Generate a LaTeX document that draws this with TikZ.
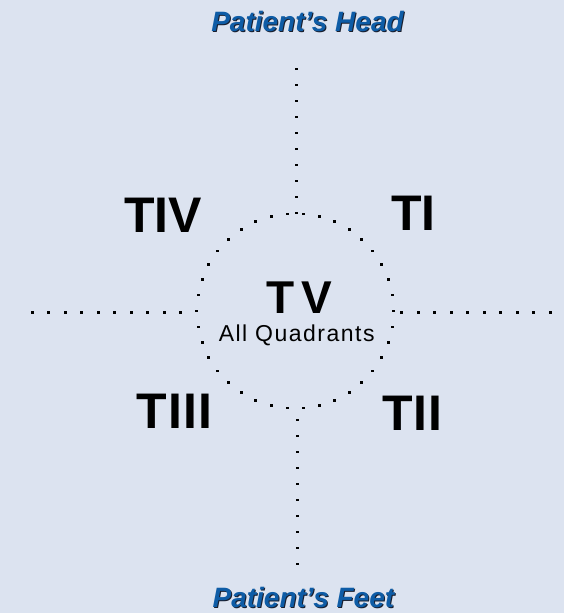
\documentclass[tikz,border=0pt]{standalone}
\usepackage{fontspec}
\setmainfont{Liberation Sans}
\newfontfamily\trackedfont[LetterSpace=6.5]{Liberation Sans}
\definecolor{bg}{RGB}{220,227,240}
\definecolor{headblue}{RGB}{14,92,166}
\definecolor{shadowc}{RGB}{25,30,45}
\begin{document}
\begin{tikzpicture}[x=1pt,y=-1pt,
  quad/.style={font=\fontsize{50}{50}\selectfont\bfseries, anchor=base, inner sep=0pt, text=black},
  title/.style={font=\fontsize{28}{28}\selectfont\bfseries\itshape, anchor=base, inner sep=0pt, text=headblue},
  titleshadow/.style={title, text=shadowc},
  dotsq/.style={fill=black}
]
\fill[bg] (0,0) rectangle (564,613);
\useasboundingbox (0,0) rectangle (564,613);

% dotted axes
\foreach \i in {0,...,9} {
  \fill[dotsq] ({296.7-1.5},{69+16*\i-1.2}) rectangle ++(3,2.4);
  \fill[dotsq] ({297.7-1.5},{419.7+16.04*\i-1.2}) rectangle ++(3,2.4);
  \fill[dotsq] ({32+16.5*\i-1.5},{312.3-1.2}) rectangle ++(3,2.4);
  \fill[dotsq] ({401.5+16.5*\i-1.5},{312.3-1.2}) rectangle ++(3,2.4);
}
% dotted circle
\foreach \k in {0,...,37} {
  \fill[dotsq] ({295.2+98.5*cos(360*\k/38)-1.5},{311-97.5*sin(360*\k/38)-1.3}) rectangle ++(3,2.6);
}

% titles
\node[titleshadow] (headsh) at (308.5,32.7) {Patient’s Head};
\node[title] (head) at (307.5,31.7) {Patient’s Head};
\node[titleshadow] (feetsh) at (304.4,608.8) {Patient’s Feet};
\node[title] (feet) at (303.4,607.8) {Patient’s Feet};

% quadrant labels
\node[quad] (tiv) at (163,232) {TIV};
\node[quad] (ti) at (413.5,230) {TI};
\node[quad] (tiii) at (174.5,428) {T\kern1pt I\kern1pt I\kern1pt I};
\node[quad] (tii) at (412.5,430) {T\kern1pt I\kern1pt I};
\node[quad, font=\fontsize{46}{46}\selectfont\bfseries] (tv) at (299,313) {T\kern7pt V};
\node[anchor=base, inner sep=0pt, font=\trackedfont\fontsize{23}{23}\selectfont] (allq) at (296.7,341.7) {All Quadrants};
\end{tikzpicture}
\end{document}
